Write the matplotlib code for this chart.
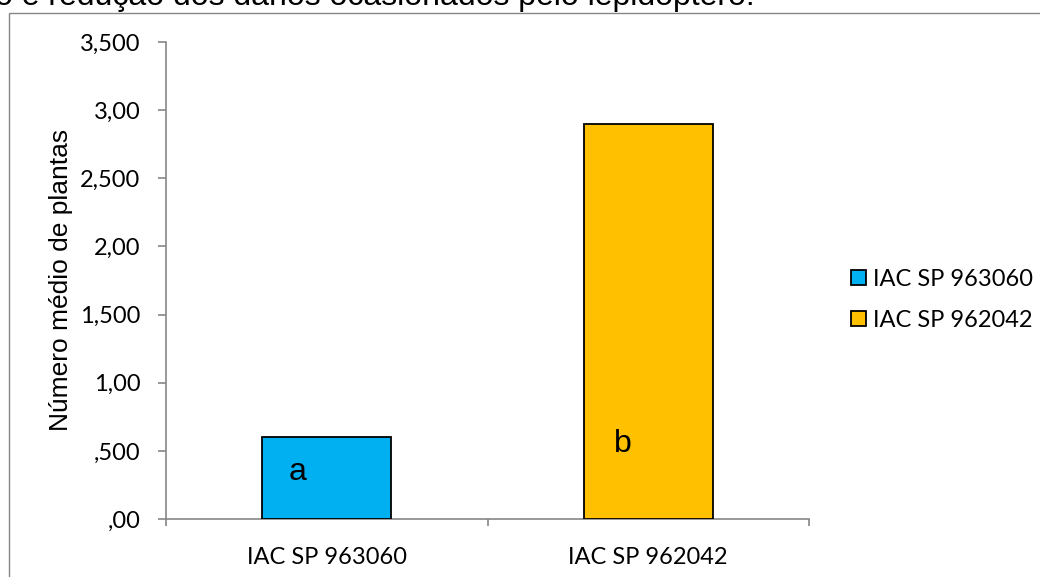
import matplotlib
matplotlib.use("Agg")
import matplotlib.pyplot as plt
from matplotlib.patches import Rectangle
import numpy as np

# Data
categories = ["IAC SP 963060", "IAC SP 962042"]
values = [0.60, 2.90]
letters = ["a", "b"]
colors = ["#00B0F0", "#FFC000"]
ytick_values = [0.0, 0.5, 1.0, 1.5, 2.0, 2.5, 3.0, 3.5]
ytick_labels = [",00", ",500", "1,00", "1,500", "2,00", "2,500", "3,00", "3,500"]

W, H = 1040, 577
fig = plt.figure(figsize=(W / 100, H / 100), dpi=100)
fig.patch.set_facecolor("white")

TICK_FONT = "Lato"
TEXT_FONT = "Liberation Sans"
GRAY = "#868686"

ax = fig.add_axes([166 / W, 1 - 519 / H, (809 - 166) / W, (519 - 42) / H])

x = np.arange(len(categories))
for i, (cat, val, col) in enumerate(zip(categories, values, colors)):
    ax.bar(x[i], val, width=0.4, color=col, edgecolor="black", linewidth=1.3,
           label=cat, zorder=3)

# significance letters inside the bars
letter_offsets = [(-0.09, 0.345), (-0.08, 0.55)]
for i, (lt, (dx, yy)) in enumerate(zip(letters, letter_offsets)):
    ax.text(x[i] + dx, yy, lt, ha="center", va="center", fontsize=23,
            family=TEXT_FONT, color="black", zorder=4)

ax.set_xlim(-0.5, len(categories) - 0.5)
ax.set_ylim(0, 3.5)

for s in ["top", "right"]:
    ax.spines[s].set_visible(False)
for s in ["left", "bottom"]:
    ax.spines[s].set_color(GRAY)
    ax.spines[s].set_linewidth(1.2)

ax.set_yticks(ytick_values)
ax.set_yticklabels(ytick_labels, family=TICK_FONT, fontsize=17)
ax.tick_params(axis="y", direction="out", length=5.5, width=1.2, color=GRAY, pad=13)

# category boundaries carry tick marks, labels sit at category centres
ax.set_xticks(np.arange(-0.5, len(categories), 1.0))
ax.set_xticklabels([])
ax.tick_params(axis="x", which="major", direction="out", length=5, width=1.2, color=GRAY)
ax.set_xticks(x, minor=True)
ax.set_xticklabels(categories, minor=True, family=TICK_FONT, fontsize=17)
ax.tick_params(axis="x", which="minor", length=0, pad=20)

fig.text(61 / W, 1 - 280 / H, "Número médio de plantas", rotation=90,
         ha="center", va="center", fontsize=19, family=TEXT_FONT)

leg = ax.legend(loc="center left", bbox_to_anchor=(851 / W, 1 - 300 / H),
                bbox_transform=fig.transFigure, frameon=False,
                prop={"family": TICK_FONT, "size": 17},
                handlelength=0.62, handleheight=0.62, handletextpad=0.3,
                labelspacing=0.85, borderpad=0, borderaxespad=0)

# chart frame and the caption line above it
fig.add_artist(Rectangle((8.5 / W, -0.1), 1.2, 1 - 13 / H + 0.1,
                         transform=fig.transFigure, fill=False,
                         edgecolor=GRAY, linewidth=1.0))
fig.text(755 / W, 1 - 5 / H, "o e redução dos danos ocasionados pelo lepidóptero.",
         ha="right", va="baseline", fontsize=23, family=TEXT_FONT)

fig.savefig("out.png", dpi=100)
